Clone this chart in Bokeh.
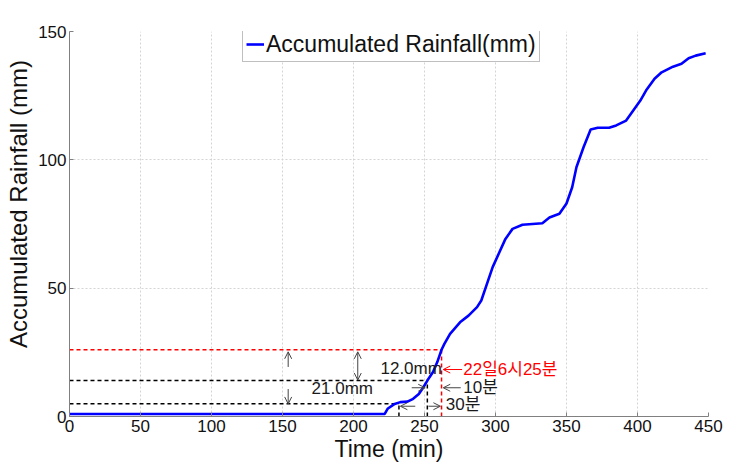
from bokeh.plotting import figure
from bokeh.models import (ColumnDataSource, Range1d, Arrow, OpenHead, Legend,
                          LegendItem, FixedTicker)
from bokeh.core.properties import value
from bokeh.embed import file_html
from bokeh.resources import INLINE

# ---- data -------------------------------------------------------------
time_min = [0, 222, 224, 229, 233, 238, 242, 246, 249, 252, 256, 259, 262,
            264, 268, 275, 281, 287, 290, 298, 307, 312, 319, 326, 333, 338,
            345, 350, 354, 357, 362, 367, 372, 380, 385, 392, 397, 402, 406,
            412, 417, 425, 431, 436, 441, 448]
rain_mm = [1.0, 1.0, 3.0, 4.9, 5.6, 5.8, 6.9, 8.8, 11.2, 14.0, 17.3, 21.2,
           26.0, 28.3, 32.2, 36.7, 39.3, 42.6, 45.2, 58.2, 69.2, 73.1, 74.7,
           75.0, 75.3, 77.5, 79.0, 83.0, 89.3, 97.1, 104.9, 111.8, 112.5,
           112.5, 113.4, 115.3, 119.2, 123.1, 127.0, 131.6, 134.1, 136.3,
           137.4, 139.6, 140.6, 141.5]

mark_times = [232, 252, 262]      # 30 min before, 10 min before, 22일 6시25분
mark_levels = [5, 14, 26]         # rainfall at those times (mm)
mark_colors = ["#000000", "#000000", "#ff0000"]

x_ticks = [0, 50, 100, 150, 200, 250, 300, 350, 400, 450]
y_ticks = [0, 50, 100, 150]

note_texts = ["12.0mm", "21.0mm", "22일6시25분", "10분", "30분"]
note_x = [219, 170.5, 277.3, 277.3, 265]
note_y = [18.6, 10.8, 18.3, 11.2, 4.7]
note_colors = ["#1a1a1a", "#1a1a1a", "#ff0000", "#1a1a1a", "#1a1a1a"]

FONT = "Liberation Sans"
KFONT = "'Liberation Sans', 'Noto Sans CJK KR', sans-serif"

# ---- figure -----------------------------------------------------------
p = figure(width=740, height=465, output_backend="svg", toolbar_location=None,
           x_range=Range1d(0, 450), y_range=Range1d(0, 150),
           min_border_left=69, min_border_right=32, min_border_top=31,
           min_border_bottom=49)
p.outline_line_color = None
p.background_fill_color = "white"
p.border_fill_color = "white"

p.xaxis.ticker = FixedTicker(ticks=x_ticks)
p.yaxis.ticker = FixedTicker(ticks=y_ticks)
for ax in (p.xaxis[0], p.yaxis[0]):
    ax.axis_line_color = "#808080"
    ax.axis_line_width = 1
    ax.major_tick_line_color = "#808080"
    ax.major_tick_in = 4
    ax.major_tick_out = 0
    ax.minor_tick_line_color = None
    ax.major_label_text_font = FONT
    ax.major_label_text_font_size = "17px"
    ax.major_label_text_color = "#111111"
    ax.axis_label_text_font = FONT
    ax.axis_label_text_font_style = "normal"
    ax.axis_label_text_color = "#111111"
    ax.major_label_standoff = 3

p.xaxis.axis_label = "Time (min)"
p.xaxis.axis_label_text_font_size = "23px"
p.xaxis.axis_label_standoff = 1

# leading no-break spaces lift the label a little above the frame centre, as in the reference
p.yaxis.axis_label = "\u00a0" * 6 + "Accumulated Rainfall (mm)"
p.yaxis.axis_label_text_font_size = "24px"
p.yaxis.axis_label_standoff = 3

for g in (p.xgrid[0], p.ygrid[0]):
    g.grid_line_color = "#d4d4d4"
    g.grid_line_dash = "2 2"
    g.grid_line_width = 1

# ---- dashed guide lines -----------------------------------------------
n = len(mark_times)
guides = ColumnDataSource(dict(
    x0=[0] * n + mark_times,
    y0=mark_levels + [0] * n,
    x1=mark_times + mark_times,
    y1=mark_levels + mark_levels,
    c=mark_colors + mark_colors,
))
p.segment(x0="x0", y0="y0", x1="x1", y1="y1", line_color="c",
          line_dash="4 3", line_width=1.5, source=guides)

# ---- rainfall curve ---------------------------------------------------
line = p.line(time_min, rain_mm, line_color="#0000ff", line_width=2.6)

# ---- arrows -----------------------------------------------------------
arrow_col = "#444444"
def add_arrow(x0, y0, x1, y1, color=arrow_col, both=False):
    a = Arrow(x_start=x0, y_start=y0, x_end=x1, y_end=y1,
              line_color=color, line_width=1,
              end=OpenHead(size=7, line_color=color, line_width=1),
              start=OpenHead(size=7, line_color=color, line_width=1) if both else None)
    p.add_layout(a)

x_a1 = 154
x_a2 = 203
add_arrow(x_a1, 19.3, x_a1, mark_levels[2] - 0.8)
add_arrow(x_a1, 10.7, x_a1, mark_levels[0] - 0.1)
add_arrow(x_a2, mark_levels[1] + 0.2, x_a2, mark_levels[2] - 0.8, both=True)
add_arrow(276.5, 18.3, mark_times[2] + 1.2, 18.3, color="#ff0000")
add_arrow(275.5, 11.2, mark_times[2] + 1.2, 11.2)
add_arrow(241, 11.2, mark_times[1] - 1.5, 11.2)
add_arrow(243.5, 4.0, mark_times[0] + 1.0, 4.0)
add_arrow(252.8, 4.0, mark_times[2] - 0.8, 4.0)

# ---- annotation texts --------------------------------------------------
notes = ColumnDataSource(dict(x=note_x, y=note_y, t=note_texts, c=note_colors))
p.text(x="x", y="y", text="t", text_color="c", source=notes,
       text_font=value(KFONT), text_font_size="17px",
       text_align="left", text_baseline="middle")

# ---- legend -----------------------------------------------------------
legend = Legend(items=[LegendItem(label="Accumulated Rainfall(mm)", renderers=[line])],
                location=(173, 354))
legend.label_text_font = FONT
legend.label_text_font_size = "23px"
legend.label_text_color = "#111111"
legend.border_line_color = "#808080"
legend.border_line_width = 1
legend.padding = 3
legend.margin = 0
legend.spacing = 0
legend.glyph_width = 18
legend.glyph_height = 28
legend.label_standoff = 2
legend.label_height = 28
legend.background_fill_alpha = 1.0
p.add_layout(legend)

open("out.html", "w").write(file_html(p, INLINE))
